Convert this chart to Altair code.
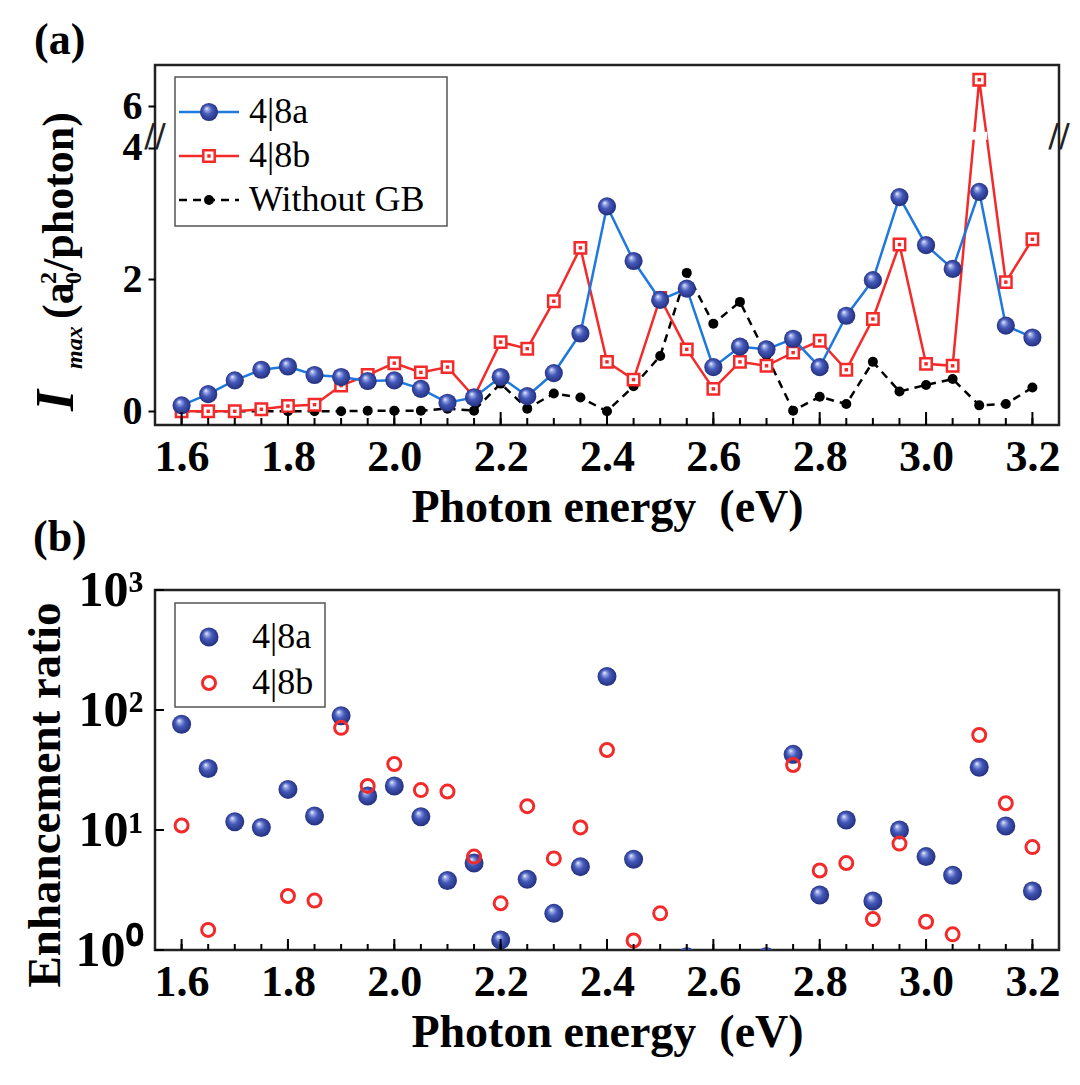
import altair as alt
import pandas as pd

# ---------------- data ----------------
energy = [1.60, 1.65, 1.70, 1.75, 1.80, 1.85, 1.90, 1.95, 2.00, 2.05, 2.10,
          2.15, 2.20, 2.25, 2.30, 2.35, 2.40, 2.45, 2.50, 2.55, 2.60, 2.65,
          2.70, 2.75, 2.80, 2.85, 2.90, 2.95, 3.00, 3.05, 3.10, 3.15, 3.20]
major_ticks = [1.6, 1.8, 2.0, 2.2, 2.4, 2.6, 2.8, 3.0, 3.2]

imax_48a = [0.09, 0.26, 0.47, 0.63, 0.68, 0.55, 0.52, 0.46, 0.47, 0.34, 0.13,
            0.21, 0.52, 0.23, 0.58, 1.18, 3.11, 2.28, 1.69, 1.86, 0.67, 0.98,
            0.94, 1.10, 0.67, 1.45, 1.99, 3.25, 2.52, 2.16, 3.33, 1.30, 1.12]
imax_48b = [0.00, 0.00, 0.00, 0.03, 0.08, 0.10, 0.39, 0.55, 0.73, 0.59, 0.67,
            0.22, 1.05, 0.95, 1.67, 2.48, 0.75, 0.48, 1.72, 0.94, 0.34, 0.75,
            0.69, 0.89, 1.07, 0.63, 1.40, 2.53, 0.72, 0.69, 6.40, 1.96, 2.61]
imax_nogb = [0.00, 0.00, 0.00, 0.00, 0.00, 0.00, 0.00, 0.01, 0.01, 0.01, 0.04,
             0.01, 0.42, 0.04, 0.27, 0.21, 0.00, 0.38, 0.84, 2.10, 1.33, 1.66,
             0.85, 0.01, 0.22, 0.11, 0.75, 0.30, 0.40, 0.49, 0.09, 0.11, 0.36]

ratio_48a = [76, 32.6, 11.7, 10.5, 21.8, 13.1, 89.7, 19.2, 23.3, 12.9, 3.8,
             5.3, 1.21, 3.88, 2.02, 4.95, 190, 5.7, None, 0.88, None, None,
             0.88, 42.7, 2.87, 12.1, 2.56, 10.0, 6.0, 4.2, 33.3, 10.8, 3.1]
ratio_48b = [10.9, 1.47, None, None, 2.82, 2.58, 71, 23.3, 35.5, 21.5, 20.9,
             6.0, 2.45, 15.8, 5.8, 10.5, 46.4, 1.2, 2.02, None, None, None,
             None, 34.8, 4.6, 5.3, 1.81, 7.7, 1.72, 1.35, 61.9, 16.7, 7.2]

log_ticks = [1, 10, 100, 1000]

# axis break of panel (a)
BREAK_LOW, BREAK_HIGH, BREAK_SHIFT = 4.12, 4.24, 1.37

# ---------------- styles ----------------
SERIF = "Liberation Serif"
W, H = 904, 360
BLUE_LINE = "#1f78dc"
RED = "#f42a2a"
BALL = {"gradient": "radial", "x1": 0.36, "y1": 0.3, "r1": 0.0,
        "x2": 0.5, "y2": 0.5, "r2": 0.56,
        "stops": [{"offset": 0.0, "color": "#ffffff"},
                  {"offset": 0.16, "color": "#9fade8"},
                  {"offset": 0.45, "color": "#4358b8"},
                  {"offset": 1.0, "color": "#1e2975"}]}

df = pd.DataFrame({"E": energy, "a": imax_48a, "b": imax_48b, "n": imax_nogb,
                   "ra": ratio_48a, "rb": ratio_48b})
minor_df = pd.DataFrame({"E": energy})
major_df = pd.DataFrame({"E": major_ticks})
one = pd.DataFrame({"k": [0]})


def disp(col):
    return f"datum.{col} > {BREAK_HIGH} ? datum.{col} - {BREAK_SHIFT} : datum.{col}"


x_axis = alt.Axis(values=major_ticks, format=".1f", title="Photon energy\u00a0 (eV)",
                  labelFont=SERIF, labelFontWeight="bold", labelFontSize=44,
                  labelColor="black", labelPadding=10, labelFlush=False,
                  labelOverlap=False, titleFont=SERIF, titleFontWeight="bold",
                  titleFontSize=46, titleColor="black", titlePadding=6,
                  ticks=False, domain=False, grid=False)

# ================= panel (a) =================
xs_a = alt.Scale(domain=[1.55, 3.25], nice=False, zero=False)
ys_a = alt.Scale(domain=[-0.208, 5.254], nice=False, zero=False)
y_axis_a = alt.Axis(values=[0, 2, 4, 6 - BREAK_SHIFT],
                    labelExpr="datum.value > 4.5 ? '6' : format(datum.value, 'd')",
                    title=None, labelFont=SERIF, labelFontWeight="bold",
                    labelFontSize=40, labelColor="black", labelPadding=6,
                    tickSize=7, tickWidth=2, tickColor="black",
                    domain=False, grid=False)
XA = alt.X("E:Q", scale=xs_a, axis=x_axis)
YA = alt.Y("d:Q", scale=ys_a, axis=y_axis_a)

base = alt.Chart(df)
black_line = base.transform_calculate(d=disp("n")).mark_line(
    color="black", strokeWidth=2.5, strokeDash=[8, 6]).encode(x=XA, y=YA)
black_pts = base.transform_calculate(d=disp("n")).mark_circle(
    color="black", size=100, opacity=1).encode(x=XA, y=YA)
red_line = base.transform_calculate(d=disp("b")).mark_line(
    color=RED, strokeWidth=2.5).encode(x=XA, y=YA)
red_sq = base.transform_calculate(d=disp("b")).mark_point(
    shape="square", size=130, filled=False, fill="white", stroke=RED,
    strokeWidth=2.5, opacity=1).encode(x=XA, y=YA)
red_dot = base.transform_calculate(d=disp("b")).mark_point(
    shape="square", size=12, filled=True, color=RED, opacity=1).encode(x=XA, y=YA)
blue_line = base.transform_calculate(d=disp("a")).mark_line(
    color=BLUE_LINE, strokeWidth=2.5).encode(x=XA, y=YA)
blue_pts = base.transform_calculate(d=disp("a")).mark_circle(
    fill=BALL, size=330, opacity=1).encode(x=XA, y=YA)

# gap of the broken axis across the 4|8b spike
gap_df = pd.DataFrame({"E": [energy[30] - 0.015], "E2": [energy[30] + 0.015],
                       "d": [BREAK_LOW], "d2": [BREAK_HIGH]})
gap = alt.Chart(gap_df).mark_rect(color="white").encode(
    x=XA, x2="E2:Q", y=YA, y2="d2:Q")
brk_df = pd.DataFrame({"E": [1.55, 3.25], "d": [(BREAK_LOW + BREAK_HIGH) / 2] * 2})
brk = alt.Chart(brk_df).mark_text(text="//", font="DejaVu Sans", fontSize=32,
                                  color="#222").encode(x=XA, y=YA)

ticks_minor_a = alt.Chart(minor_df).mark_rule(color="black", strokeWidth=2).encode(
    x=XA, y=alt.value(H), y2=alt.value(H - 7))
ticks_major_a = alt.Chart(major_df).mark_rule(color="black", strokeWidth=2).encode(
    x=XA, y=alt.value(H), y2=alt.value(H - 13))

# legend (a)
leg_txt = dict(font=SERIF, fontSize=36, color="black", align="left", baseline="middle")
leg_a = [
    alt.Chart(one).mark_rect(fill="white", stroke="#555", strokeWidth=1.5).encode(
        x=alt.value(20), x2=alt.value(292), y=alt.value(12), y2=alt.value(161)),
    alt.Chart(one).mark_rule(color=BLUE_LINE, strokeWidth=2.5).encode(
        x=alt.value(24), x2=alt.value(84), y=alt.value(47)),
    alt.Chart(one).mark_circle(fill=BALL, size=330, opacity=1).encode(
        x=alt.value(54), y=alt.value(47)),
    alt.Chart(one).mark_text(text="4|8a", **leg_txt).encode(
        x=alt.value(94), y=alt.value(47)),
    alt.Chart(one).mark_rule(color=RED, strokeWidth=2.5).encode(
        x=alt.value(24), x2=alt.value(84), y=alt.value(91)),
    alt.Chart(one).mark_point(shape="square", size=130, filled=False, fill="white",
                              stroke=RED, strokeWidth=2.5, opacity=1).encode(
        x=alt.value(54), y=alt.value(91)),
    alt.Chart(one).mark_point(shape="square", size=12, filled=True, color=RED,
                              opacity=1).encode(x=alt.value(54), y=alt.value(91)),
    alt.Chart(one).mark_text(text="4|8b", **leg_txt).encode(
        x=alt.value(94), y=alt.value(91)),
    alt.Chart(one).mark_rule(color="black", strokeWidth=2.5, strokeDash=[8, 6]).encode(
        x=alt.value(24), x2=alt.value(84), y=alt.value(135)),
    alt.Chart(one).mark_circle(color="black", size=100, opacity=1).encode(
        x=alt.value(54), y=alt.value(135)),
    alt.Chart(one).mark_text(text="Without GB", **leg_txt).encode(
        x=alt.value(94), y=alt.value(135)),
]

# labels and y title of (a)
anchor = alt.Chart(one).mark_point(opacity=0, size=1).encode(
    x=alt.value(-153), y=alt.value(-63))
lab_a = alt.Chart(one).mark_text(text="(a)", font=SERIF, fontWeight="bold",
                                 fontSize=44, align="left", baseline="alphabetic",
                                 color="black").encode(x=alt.value(-121), y=alt.value(-11))
ytitle_kw = dict(font=SERIF, fontWeight="bold", angle=270, align="left",
                 baseline="alphabetic", color="black")
ytitle_a = [
    alt.Chart(one).mark_text(text="I", fontSize=54, fontStyle="italic", **ytitle_kw).encode(
        x=alt.value(-82), y=alt.value(346)),
    alt.Chart(one).mark_text(text="max", fontSize=24, fontStyle="italic", **ytitle_kw).encode(
        x=alt.value(-73), y=alt.value(304)),
    alt.Chart(one).mark_text(text="(a", fontSize=44, **ytitle_kw).encode(
        x=alt.value(-82), y=alt.value(254)),
    alt.Chart(one).mark_text(text="2", fontSize=24, **ytitle_kw).encode(
        x=alt.value(-99), y=alt.value(219)),
    alt.Chart(one).mark_text(text="0", fontSize=24, **ytitle_kw).encode(
        x=alt.value(-74), y=alt.value(219)),
    alt.Chart(one).mark_text(text="/photon)", fontSize=44, **ytitle_kw).encode(
        x=alt.value(-82), y=alt.value(206)),
]

panel_a = alt.layer(
    black_line, black_pts, red_line, red_sq, red_dot, gap, blue_line, blue_pts,
    brk, ticks_minor_a, ticks_major_a, *leg_a, anchor, lab_a, *ytitle_a
).properties(width=W, height=H)

# ================= panel (b) =================
xs_b = alt.Scale(domain=[1.55, 3.25], nice=False, zero=False)
ys_b = alt.Scale(type="log", domain=[1, 1000], nice=False)
y_axis_b = alt.Axis(values=log_ticks,
                    labelExpr="'10' + (datum.value == 1 ? '\u2070' : datum.value == 10 ? '\u00b9' : datum.value == 100 ? '\u00b2' : '\u00b3')",
                    title=None, labelFont=SERIF, labelFontWeight="bold",
                    labelFontSize=50, labelColor="black", labelPadding=12,
                    ticks=False, domain=False, grid=False)
XB = alt.X("E:Q", scale=xs_b, axis=x_axis)
YB = alt.Y("r:Q", scale=ys_b, axis=y_axis_b)

blue_b = alt.Chart(df).transform_calculate(r="datum.ra").mark_circle(
    fill=BALL, size=361, opacity=1, clip=True).encode(x=XB, y=YB)
red_b = alt.Chart(df).transform_calculate(r="datum.rb").mark_point(
    shape="circle", size=169, filled=False, stroke=RED, strokeWidth=3,
    opacity=1, clip=True).encode(x=XB, y=YB)

ticks_minor_b = alt.Chart(minor_df).mark_rule(color="black", strokeWidth=2).encode(
    x=XB, y=alt.value(H), y2=alt.value(H - 6))
ticks_major_b = alt.Chart(major_df).mark_rule(color="black", strokeWidth=2).encode(
    x=XB, y=alt.value(H), y2=alt.value(H - 11))
ytick_df = pd.DataFrame({"r": log_ticks})
ticks_y_b = alt.Chart(ytick_df).mark_rule(color="black", strokeWidth=2).encode(
    y=YB, x=alt.value(0), x2=alt.value(9))

leg_b = [
    alt.Chart(one).mark_rect(fill="white", stroke="#555", strokeWidth=1.5).encode(
        x=alt.value(20), x2=alt.value(170), y=alt.value(13), y2=alt.value(117)),
    alt.Chart(one).mark_circle(fill=BALL, size=361, opacity=1).encode(
        x=alt.value(54), y=alt.value(47)),
    alt.Chart(one).mark_text(text="4|8a", **leg_txt).encode(
        x=alt.value(97), y=alt.value(47)),
    alt.Chart(one).mark_point(shape="circle", size=169, filled=False, stroke=RED,
                              strokeWidth=3, opacity=1).encode(
        x=alt.value(54), y=alt.value(93)),
    alt.Chart(one).mark_text(text="4|8b", **leg_txt).encode(
        x=alt.value(97), y=alt.value(93)),
]
lab_b = alt.Chart(one).mark_text(text="(b)", font=SERIF, fontWeight="bold",
                                 fontSize=44, align="left", baseline="alphabetic",
                                 color="black").encode(x=alt.value(-122), y=alt.value(-39))
ytitle_b = alt.Chart(one).mark_text(text="Enhancement ratio", font=SERIF,
                                    fontWeight="bold", fontSize=47, angle=270,
                                    align="center", baseline="alphabetic",
                                    color="black").encode(x=alt.value(-95), y=alt.value(205))

panel_b = alt.layer(
    blue_b, red_b, ticks_minor_b, ticks_major_b, ticks_y_b, *leg_b, lab_b, ytitle_b
).properties(width=W, height=H)

chart = alt.vconcat(panel_a, panel_b, spacing=165, bounds="flush").properties(
    padding=0, background="white"
).configure_view(stroke="#222", strokeWidth=2.5)

chart.save("out.html", embed_options={"renderer": "svg", "actions": False})
